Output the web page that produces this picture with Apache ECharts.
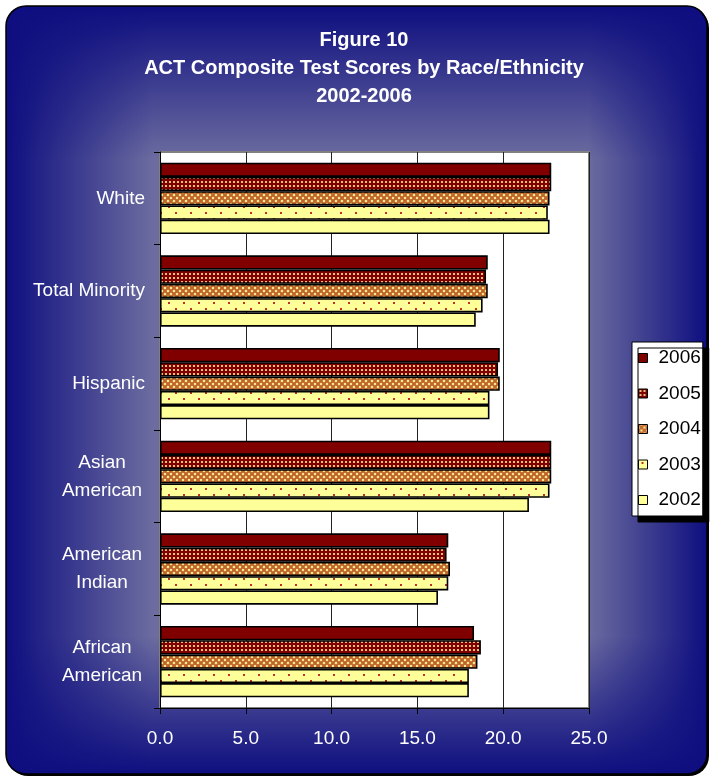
<!DOCTYPE html>
<html><head><meta charset="utf-8">
<script src="https://cdn.jsdelivr.net/npm/echarts@6/dist/echarts.min.js"></script>
<style>html,body{margin:0;padding:0;background:#fff}#c{width:710px;height:777px}</style>
</head><body><div id="c"></div>
<script>
// ---- data (categories listed top to bottom as in the picture) ----
const titleLines = ['Figure 10', 'ACT Composite Test Scores by Race/Ethnicity', '2002-2006'];
const categories = ['White', 'Total Minority', 'Hispanic', 'Asian\nAmerican', 'American\nIndian', 'African\nAmerican'];
const years = ['2006', '2005', '2004', '2003', '2002'];
const scores2006 = [22.8, 19.1, 19.8, 22.8, 16.8, 18.3];
const scores2005 = [22.8, 19.0, 19.7, 22.8, 16.7, 18.7];
const scores2004 = [22.7, 19.1, 19.8, 22.8, 16.9, 18.5];
const scores2003 = [22.6, 18.8, 19.2, 22.7, 16.8, 18.0];
const scores2002 = [22.7, 18.4, 19.2, 21.5, 16.2, 18.0];
const xMin = 0, xMax = 25, xStep = 5;

const seriesValues = [scores2006, scores2005, scores2004, scores2003, scores2002];
const FONT = '"Liberation Sans", Arial, sans-serif';

function tile(w, h, draw) {
  const c = document.createElement('canvas');
  c.width = w; c.height = h;
  draw(c.getContext('2d'));
  return c;
}
const DARK = '#800000', PALE = '#FFFF99';
const fill2005 = tile(4, 4, g => { g.fillStyle = DARK; g.fillRect(0, 0, 4, 4); g.fillStyle = '#e6c078'; g.fillRect(1, 1, 2, 2); });
const fill2004 = tile(6, 6, g => {
  g.fillStyle = PALE; g.fillRect(0, 0, 6, 6);
  g.strokeStyle = '#c0642e'; g.lineWidth = 2.2;
  g.beginPath(); g.moveTo(-1, -1); g.lineTo(7, 7); g.moveTo(7, -1); g.lineTo(-1, 7); g.stroke();
});
const fill2003 = tile(15, 12, g => {
  g.fillStyle = PALE; g.fillRect(0, 0, 15, 12);
  g.fillStyle = '#c03030'; g.fillRect(3, 2, 2, 2); g.fillRect(10, 8, 2, 2);
});
const fills = [DARK, { image: fill2005, repeat: 'repeat' }, { image: fill2004, repeat: 'repeat' }, { image: fill2003, repeat: 'repeat' }, PALE];

const chart = echarts.init(document.getElementById('c'), null, { renderer: 'canvas' });

const NAVY = [14, 14, 128];
const navy = a => `rgba(${NAVY[0]},${NAVY[1]},${NAVY[2]},${a})`;
const card = { x: 6, y: 6, width: 701, height: 768, r: 20 };

chart.setOption({
  animation: false,
  graphic: [
    { type: 'rect', z: -20, shape: { x: 8, y: 8, width: 701, height: 768, r: 20 }, style: { fill: '#000' } },
    { type: 'rect', z: -19, shape: card, style: { fill: '#6c6ca0' } },
    { type: 'rect', z: -18, shape: card, style: { fill: new echarts.graphic.LinearGradient(0, 0, 1, 0, [
      { offset: 0, color: navy(1) }, { offset: 0.21, color: navy(0) }, { offset: 0.83, color: navy(0) }, { offset: 1, color: navy(1) }]) } },
    { type: 'rect', z: -17, shape: card, style: { fill: new echarts.graphic.LinearGradient(0, 0, 0, 1, [
      { offset: 0, color: navy(1) }, { offset: 0.2, color: navy(0) }, { offset: 0.82, color: navy(0) }, { offset: 1, color: navy(1) }]) } },
    { type: 'rect', z: -16, shape: card, style: { fill: 'none', stroke: '#000', lineWidth: 1.5 } }
  ],
  title: {
    text: titleLines.join('\n'),
    left: 364, top: 26, padding: 0, textAlign: 'center',
    textStyle: { color: '#fff', fontSize: 20, fontWeight: 'bold', lineHeight: 28, fontFamily: FONT }
  },
  legend: {
    orient: 'vertical', left: 632, top: 342,
    data: years, selectedMode: false,
    itemWidth: 9, itemHeight: 9, itemGap: 15.5,
    icon: 'rect',
    itemStyle: { borderColor: '#000', borderWidth: 1 },
    textStyle: { color: '#000', fontSize: 19, lineHeight: 20, fontFamily: FONT, padding: [0, 0, 0, 6] },
    backgroundColor: '#fff', borderColor: '#000', borderWidth: 1,
    padding: [6, 2, 6, 6],
    shadowColor: '#000', shadowBlur: 0, shadowOffsetX: 6, shadowOffsetY: 6
  },
  grid: {
    left: 160, top: 152, right: 121, bottom: 69,
    show: true, backgroundColor: '#fff', borderColor: '#808080', borderWidth: 2
  },
  xAxis: {
    type: 'value', min: xMin, max: xMax, interval: xStep,
    axisLine: { show: true, lineStyle: { color: '#000', width: 1 } },
    axisTick: { show: true, length: 6, lineStyle: { color: '#000' } },
    axisLabel: { color: '#fff', fontSize: 19, margin: 21, fontFamily: FONT, formatter: v => v.toFixed(1) },
    splitLine: { show: true, lineStyle: { color: '#222', width: 1 } }
  },
  yAxis: {
    type: 'category', data: categories.slice().reverse(),
    axisLine: { show: true, lineStyle: { color: '#000', width: 1 } },
    axisTick: { show: true, length: 6, lineStyle: { color: '#000' } },
    axisLabel: {
      color: '#fff', fontSize: 19, margin: 15, lineHeight: 28, fontFamily: FONT,
      formatter: v => v.indexOf('\n') >= 0 ? v.split('\n').map(l => '{c|' + l + '}').join('\n') : v,
      rich: { c: { width: 86, align: 'center', color: '#fff', fontSize: 19, lineHeight: 28, fontFamily: FONT } }
    }
  },
  series: years.map((y, i) => ({
    name: y, type: 'bar',
    data: seriesValues[i].slice().reverse(),
    barGap: '0%', barCategoryGap: '23%',
    itemStyle: { color: fills[i], borderColor: '#000', borderWidth: 1.6 }
  }))
});
</script></body></html>
